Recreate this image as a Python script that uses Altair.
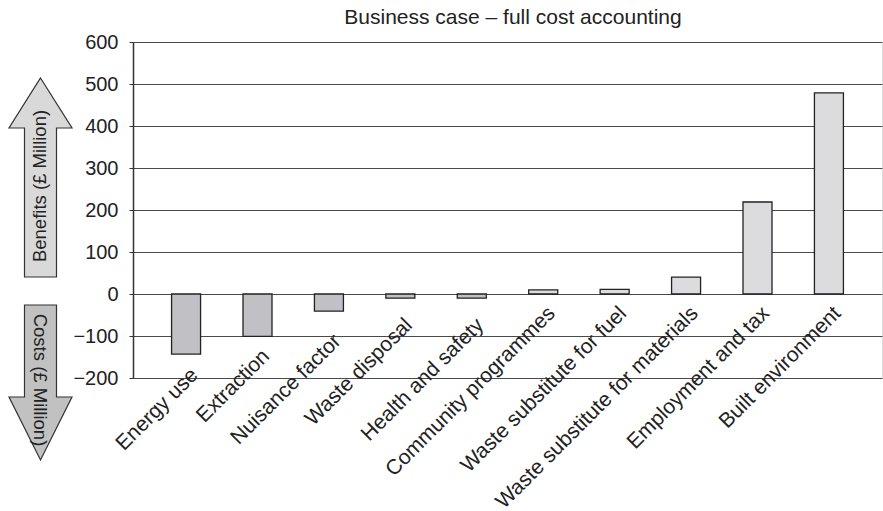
import altair as alt
import pandas as pd

categories = ["Energy use", "Extraction", "Nuisance factor", "Waste disposal",
              "Health and safety", "Community programmes", "Waste substitute for fuel",
              "Waste substitute for materials", "Employment and tax", "Built environment"]
values = [-143, -101, -41, -10, -10, 10, 11, 40, 219, 479]
y_ticks = [-200, -100, 0, 100, 200, 300, 400, 500, 600]
title_text = "Business case – full cost accounting"

df = pd.DataFrame({
    "category": categories,
    "value": values,
    "kind": ["cost" if v < 0 else "benefit" for v in values],
})

FONT = "Liberation Sans"
TXT = "#222222"

x_enc = alt.X("category:N", sort=categories, title=None,
              scale=alt.Scale(paddingInner=0.594, paddingOuter=0.54),
              axis=alt.Axis(labels=False, ticks=False, domain=False, grid=False))
y_scale = alt.Scale(domain=[-200, 600], nice=False)

bars = alt.Chart(df).mark_bar(stroke="#222222", strokeWidth=1.3).encode(
    x=x_enc,
    y=alt.Y("value:Q", title=None, scale=y_scale,
            axis=alt.Axis(values=y_ticks, grid=True, gridColor="#4a4a4a", gridWidth=1.2,
                          domainColor="#333333", domainWidth=1.5,
                          tickColor="#333333", tickSize=4, labelPadding=11,
                          labelFontSize=20, labelFont=FONT, labelColor=TXT)),
    color=alt.Color("kind:N", legend=None,
                    scale=alt.Scale(domain=["cost", "benefit"], range=["#c1c1c5", "#dcdcde"])),
)

# category labels, rotated; the first ones sit lower, as in the reference
labels = alt.Chart(df).mark_text(
    angle=315, align="right", baseline="alphabetic", dx=9.2, dy=9.2,
    fontSize=21, font=FONT, color=TXT
).transform_calculate(
    label_y="datum.category == 'Energy use' ? -196 : datum.category == 'Extraction' ? -151 : "
            "datum.category == 'Nuisance factor' ? -115 : "
            "(datum.category == 'Waste disposal' || datum.category == 'Health and safety') ? -77 : -49"
).encode(
    x=alt.X("category:N", sort=categories),
    y=alt.Y("label_y:Q", scale=y_scale),
    text="category:N",
)

first = alt.datum.category == categories[0]

up_path = "M0,-0.995 L0.315,-0.495 L0.16,-0.495 L0.16,0.995 L-0.16,0.995 L-0.16,-0.495 L-0.315,-0.495 Z"
down_path = "M-0.16,-0.775 L0.16,-0.775 L0.16,0.145 L0.315,0.145 L0,0.775 L-0.315,0.145 L-0.16,0.145 Z"

benefit_arrow = alt.Chart(df).mark_point(
    shape=up_path, size=40000, filled=True, fill="#d9d9d9", stroke="#333333",
    strokeWidth=1.2, opacity=1
).encode(x=alt.value(-92.5), y=alt.value(135.5)).transform_filter(first)

cost_arrow = alt.Chart(df).mark_point(
    shape=down_path, size=40000, filled=True, fill="#c1c1c1", stroke="#333333",
    strokeWidth=1.2, opacity=1
).encode(x=alt.value(-92.5), y=alt.value(340.5)).transform_filter(first)

benefit_text = alt.Chart(df).mark_text(
    text="Benefits (£ Million)", angle=270, fontSize=18.5, font=FONT, color=TXT,
    align="center", baseline="middle"
).encode(x=alt.value(-93), y=alt.value(144)).transform_filter(first)

cost_text = alt.Chart(df).mark_text(
    text="Costs (£ Million)", angle=90, fontSize=18.5, font=FONT, color=TXT,
    align="center", baseline="middle"
).encode(x=alt.value(-93), y=alt.value(338)).transform_filter(first)

title = alt.Chart(df).mark_text(
    text=title_text, fontSize=21, font=FONT, color=TXT,
    align="center", baseline="alphabetic"
).encode(x=alt.value(380), y=alt.value(-18)).transform_filter(first)

chart = alt.layer(bars, labels, benefit_arrow, cost_arrow, benefit_text, cost_text, title).properties(
    width=749, height=336,
    autosize=alt.AutoSizeParams(type="none"),
    padding={"left": 133, "top": 42, "right": 1, "bottom": 133},
).configure_view(stroke=None).configure(background="white")

chart.save("out.html", embed_options={"renderer": "svg", "actions": False})
